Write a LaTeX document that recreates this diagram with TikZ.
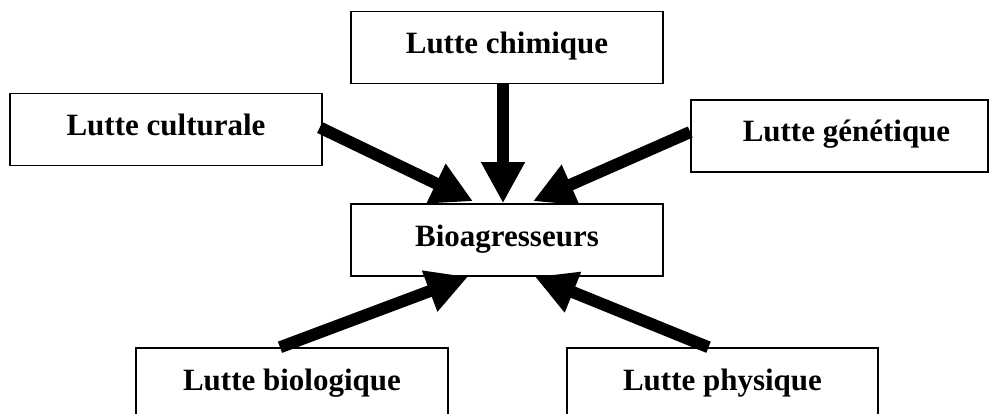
\documentclass[tikz,border=0pt]{standalone}
\usepackage{fontspec}
\setmainfont{Liberation Serif}
\usetikzlibrary{arrows.meta,calc}
\begin{document}
\begin{tikzpicture}[x=1pt,y=-1pt,
  box/.style={draw, line width=1.5pt, fill=white, minimum width=312pt, minimum height=72pt,
    inner sep=0pt, text height=20pt, text depth=8pt,
    font=\fontsize{31pt}{36pt}\selectfont\bfseries},
  bigarrow/.style={line width=12pt, -{Triangle[length=41pt,width=41pt]}}]
\useasboundingbox (0,0) rectangle (990,414);
\fill[white] (0,0) rectangle (990,414);
\clip (0,0) rectangle (990,414);
\node[box] (chim) at (507,47.5) {Lutte chimique};
\node[box] (cult) at (166,129.5) {Lutte culturale};
\node[box, minimum width=297pt] (gen) at (839.5,136) {\hspace*{14pt}Lutte génétique};
\node[box] (bio) at (507,240) {Bioagresseurs};
\node[box] (biol) at (292,384) {Lutte biologique};
\node[box, minimum width=311pt] (phys) at (722.5,384) {Lutte physique};
\draw[bigarrow] ($(chim.south)+(-4,0)$) -- ($(bio.north)+(-4,0)$);
\draw[bigarrow] ($(cult.east)+(-3,-2)$) -- ($(bio.north)+(-34,-2)$);
\draw[bigarrow] ($(gen.west)+(0,-4)$) -- ($(bio.north)+(26,-2)$);
\draw[bigarrow] ($(biol.north)+(-12,0)$) -- ($(bio.south)+(-39,0)$);
\draw[bigarrow] ($(phys.north)+(-14,0)$) -- ($(bio.south)+(28,0)$);
\end{tikzpicture}
\end{document}
